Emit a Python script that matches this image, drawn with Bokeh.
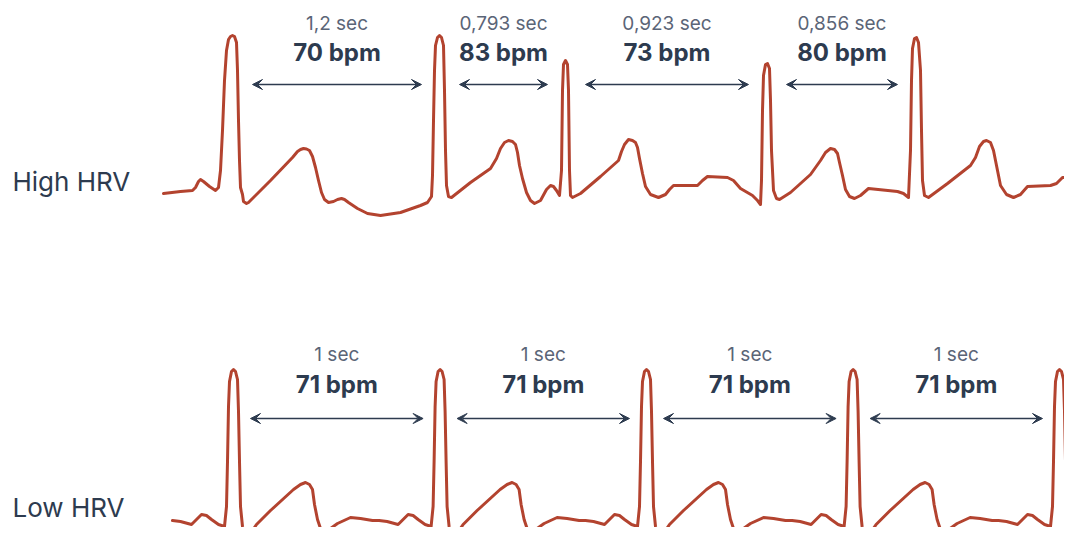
from bokeh.plotting import figure
from bokeh.models import Range1d, Label, Arrow, VeeHead
from bokeh.layouts import column
from bokeh.embed import file_html
from bokeh.resources import INLINE

# ---------------- data ----------------
# High HRV trace: time (ms) and amplitude (mV)
high_t = [15, 100, 160, 175, 190, 200, 215, 245, 275, 290, 300, 310, 320, 330, 340, 350, 360, 370, 380, 385, 390,
          395, 400, 410, 415, 430, 440,
          550, 660, 685, 700, 715, 730, 745, 760, 775, 790, 805, 820, 840, 865, 885, 905, 920, 940, 985, 1035,
          1100, 1200, 1300, 1335,
          1355, 1360, 1365, 1370, 1375, 1385, 1395, 1405, 1415, 1420, 1425, 1430, 1440, 1455,
          1550, 1650, 1680, 1700, 1720, 1740, 1760, 1775, 1785, 1795, 1810, 1830, 1850, 1870, 1900, 1930, 1950,
          1965, 1980, 1995,
          2005, 2010, 2015, 2025, 2035, 2040, 2045, 2050, 2060,
          2100, 2200, 2290, 2305, 2320, 2340, 2360, 2375, 2385, 2395, 2410, 2425, 2450, 2490, 2525, 2545, 2565,
          2685, 2710, 2735, 2835, 2865, 2900, 2960, 2985, 3000,
          3005, 3010, 3015, 3025, 3035, 3045, 3050, 3055, 3065, 3080, 3095,
          3150, 3200, 3250, 3300, 3325, 3350, 3370, 3385, 3395, 3410, 3425, 3445, 3470, 3500, 3540, 3685, 3715,
          3740,
          3750, 3755, 3760, 3770, 3780, 3790, 3800, 3805, 3810, 3820, 3840,
          3935, 4050, 4075, 4095, 4115, 4130, 4150, 4165, 4175, 4185, 4200, 4230, 4265, 4300, 4335, 4450, 4480,
          4510, 4600]
high_mv = [-0.03, -0.01, 0.00, 0.03, 0.09, 0.11, 0.09, 0.04, 0.00, 0.03, 0.20, 0.60, 1.10, 1.40, 1.51, 1.54, 1.55,
           1.54, 1.48, 1.20, 0.70,
           0.30, 0.03, -0.04, -0.11, -0.13, -0.12,
           0.10, 0.33, 0.39, 0.41, 0.42, 0.415, 0.40, 0.34, 0.23, 0.10, -0.02, -0.09, -0.12, -0.11, -0.09, -0.08,
           -0.09, -0.12, -0.18, -0.23,
           -0.25, -0.22, -0.15, -0.12,
           -0.06, 0.15, 0.70, 1.20, 1.45, 1.53, 1.55, 1.53, 1.45, 1.00, 0.40, 0.05, -0.06, -0.07,
           0.08, 0.22, 0.32, 0.42, 0.48, 0.50, 0.49, 0.46, 0.38, 0.25, 0.12, -0.02, -0.10, -0.13, -0.10, 0.01, 0.05,
           0.04, 0.00, -0.05,
           0.20, 1.00, 1.26, 1.30, 1.26, 1.00, 0.20, -0.05, -0.07,
           -0.03, 0.14, 0.30, 0.39, 0.46, 0.51, 0.50, 0.48, 0.43, 0.32, 0.17, 0.04, -0.04, -0.07, -0.04, 0.01, 0.05,
           0.05, 0.10, 0.14, 0.13, 0.10, 0.02, -0.05, -0.10, -0.14,
           0.10, 0.80, 1.15, 1.26, 1.27, 1.22, 0.90, 0.40, 0.00, -0.08, -0.09,
           -0.02, 0.07, 0.16, 0.30, 0.38, 0.42, 0.41, 0.37, 0.28, 0.15, 0.01, -0.06, -0.08, -0.05, 0.02, -0.01,
           -0.03, -0.07,
           0.40, 1.10, 1.42, 1.52, 1.53, 1.48, 1.20, 0.60, 0.10, -0.05, -0.07,
           0.07, 0.25, 0.33, 0.44, 0.49, 0.50, 0.48, 0.40, 0.30, 0.20, 0.05, -0.04, -0.07, -0.04, 0.04, 0.05, 0.07,
           0.13, 0.13]
high_r_peaks = [360, 1395, 2025, 3030, 3775]          # ms
high_interval = ["1,2 sec", "0,793 sec", "0,923 sec", "0,856 sec"]
high_bpm = [70, 83, 73, 80]

# Low HRV: one beat shape (time relative to R peak, ms; mV) repeated at each R peak
beat_t = [-300, -260, -205, -180, -155, -130, -105, -70, -40, -30, -25, -20, -15, -5, 5, 15, 25, 30, 35, 40, 50, 60,
          75, 90, 120, 190, 305, 340, 365, 385, 400, 410, 425, 440, 465, 490, 525, 590, 640, 700]
beat_mv = [0.01, 0.00, -0.03, 0.02, 0.07, 0.06, 0.02, -0.03, -0.05, 0.15, 0.60, 1.15, 1.40, 1.50, 1.52, 1.50, 1.42,
           1.10, 0.60, 0.15, -0.05, -0.15, -0.18, -0.12, -0.03, 0.11, 0.32, 0.37, 0.39, 0.37, 0.32, 0.17, 0.02,
           -0.07, -0.10, -0.07, -0.02, 0.04, 0.03, 0.01]
low_r_peaks = [360, 1393, 2425, 3458, 4490]           # ms
low_interval = ["1 sec", "1 sec", "1 sec", "1 sec"]
low_bpm = [71, 71, 71, 71]

row_labels = ["High HRV", "Low HRV"]

# ---------------- styles ----------------
TRACE = "#b3432f"
DARK = "#2d3b4f"
GREY = "#5b6577"
FONT = "Inter"
W = 1064
X_RANGE = (-800, 4520)


def make_fig(height, y0, y1):
    p = figure(width=W, height=height, x_range=Range1d(*X_RANGE), y_range=Range1d(y0, y1),
               output_backend="svg", toolbar_location=None, min_border=0,
               x_axis_location=None, y_axis_location=None, outline_line_color=None,
               background_fill_color="white", border_fill_color="white")
    p.xgrid.visible = False
    p.ygrid.visible = False
    return p


def annotate(p, peaks, intervals, bpms, gap0, gap1, y_arrow, y_bpm, y_sec):
    for i in range(len(peaks) - 1):
        xs = peaks[i] + gap0
        xe = peaks[i + 1] - gap1
        xm = (xs + xe) / 2
        p.add_layout(Arrow(x_start=xs, y_start=y_arrow, x_end=xe, y_end=y_arrow,
                           line_color=DARK, line_width=1.5,
                           start=VeeHead(size=10, fill_color=DARK, line_color=DARK, line_width=1),
                           end=VeeHead(size=10, fill_color=DARK, line_color=DARK, line_width=1)))
        p.add_layout(Label(x=xm, y=y_bpm, text=f"{bpms[i]} bpm", text_align="center",
                           text_baseline="alphabetic", text_font=FONT, text_font_size="24px",
                           text_font_style="bold", text_color=DARK))
        p.add_layout(Label(x=xm, y=y_sec, text=intervals[i], text_align="center",
                           text_baseline="alphabetic", text_font=FONT, text_font_size="19px",
                           text_color=GREY))


# top panel: High HRV
p1 = make_fig(272, -0.82, 1.90)
p1.line(high_t, high_mv, line_color=TRACE, line_width=3, line_join="round", line_cap="round")
annotate(p1, high_r_peaks, high_interval, high_bpm, 100, 90, 1.06, 1.38, 1.67)
p1.add_layout(Label(x=-740, y=0.09, text=row_labels[0], text_baseline="alphabetic",
                    text_font=FONT, text_font_size="26px", text_color=DARK))

# bottom panel: Low HRV
low_t, low_mv = [], []
for r in low_r_peaks:
    low_t += [r + t for t in beat_t]
    low_mv += beat_mv
p2 = make_fig(255, -0.06, 2.49)
p2.line(low_t, low_mv, line_color=TRACE, line_width=3, line_join="round", line_cap="round")
annotate(p2, low_r_peaks, low_interval, low_bpm, 90, 80, 1.03, 1.37, 1.67)
p2.add_layout(Label(x=-740, y=0.14, text=row_labels[1], text_baseline="alphabetic",
                    text_font=FONT, text_font_size="26px", text_color=DARK))

layout = column(p1, p2, spacing=0)
open("out.html", "w").write(file_html(layout, INLINE))
